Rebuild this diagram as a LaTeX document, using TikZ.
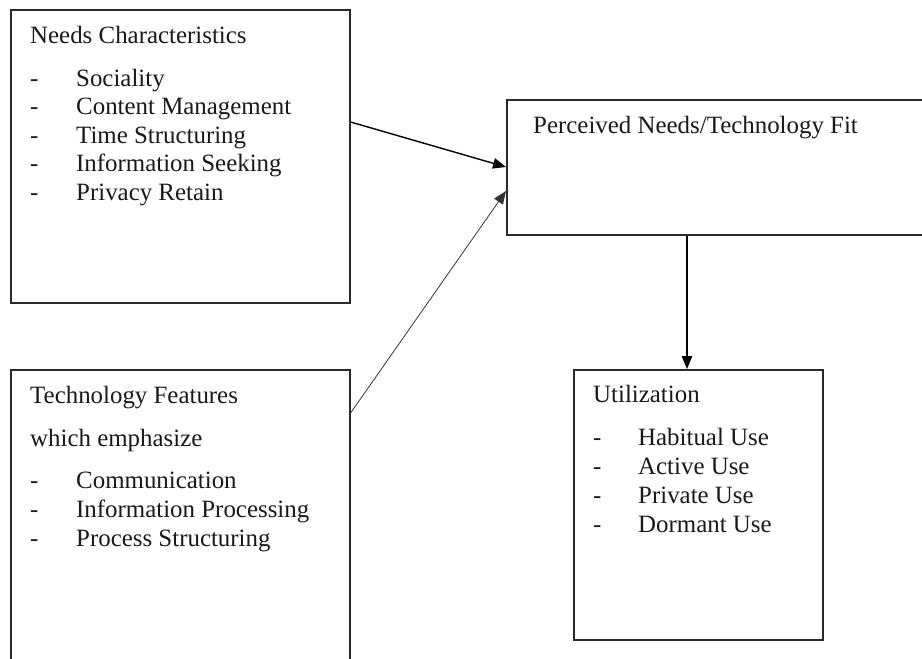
\documentclass[tikz,border=0pt]{standalone}
\usepackage{fontspec}
\setmainfont{Liberation Serif}
\usetikzlibrary{arrows.meta,calc}
\definecolor{ink}{HTML}{2A2A2A}
\tikzset{
  box/.style={draw=ink, line width=1.6pt, anchor=north west, inner sep=0pt, fill=none},
  txt/.style={anchor=base west, inner sep=0pt, text=black!90, font=\fontsize{24.9}{28.5}\selectfont},
  link/.style={draw=black, line width=1.4pt, -{Triangle[length=13pt,width=10.5pt]}},
  thinlink/.style={draw=black!80, line width=0.8pt, -{Triangle[length=13pt,width=10.5pt]}},
}
\begin{document}
\begin{tikzpicture}[x=1pt,y=-1pt]
\useasboundingbox (0,0) rectangle (922,659);
\clip (0,0) rectangle (922,659);

% frames
\node[box, minimum width=339pt, minimum height=293pt] (needs) at (10,9) {};
\node[box, minimum width=339pt, minimum height=310pt] (tech) at (10,369) {};
\node[box, minimum width=430pt, minimum height=135pt] (fit) at (506,99) {};
\node[box, minimum width=249pt, minimum height=270pt] (util) at (573,369) {};

% needs characteristics
\node[txt] (nt) at (30,43) {Needs Characteristics};
\foreach \y/\t [count=\i] in {86/Sociality,114.5/Content Management,143/Time Structuring,171.5/Information Seeking,200/Privacy Retain}{
  \node[txt] (nd\i) at (30,\y) {-};
  \node[txt] (ni\i) at (76,\y) {\t};
}

% technology features
\node[txt] (tt) at (30,403) {Technology Features};
\node[txt] (tw) at (30,446) {which emphasize};
\foreach \y/\t [count=\i] in {488/Communication,517/Information Processing,546/Process Structuring}{
  \node[txt] (td\i) at (30,\y) {-};
  \node[txt] (ti\i) at (76,\y) {\t};
}

% fit
\node[txt] (ft) at (533,133) {Perceived Needs/Technology Fit};

% utilization
\node[txt] (ut) at (593,402) {Utilization};
\foreach \y/\t [count=\i] in {445/Habitual Use,474/Active Use,503/Private Use,532/Dormant Use}{
  \node[txt] (ud\i) at (593,\y) {-};
  \node[txt] (ui\i) at (638,\y) {\t};
}

% connectors
\coordinate (a1s) at ($(needs.north east)+(0,113)$);
\coordinate (a1e) at ($(fit.north west)+(0,68)$);
\coordinate (a2s) at ($(tech.north east)+(0,44)$);
\coordinate (a2e) at ($(fit.north west)+(0,92)$);
\draw[link] (a1s) -- (a1e);
\draw[thinlink] (a2s) -- (a2e);
\draw[link] (fit.south -| 687,0) -- (util.north -| 687,0);
\end{tikzpicture}
\end{document}
